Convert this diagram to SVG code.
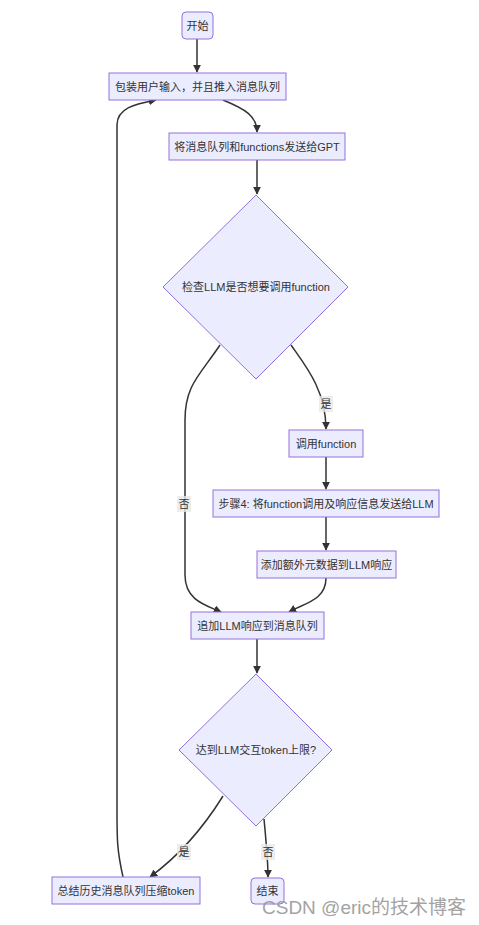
<svg xmlns="http://www.w3.org/2000/svg" width="479" height="925" viewBox="0 0 479 925">
<style>
.n{fill:#ECECFF;stroke:#9370DB;stroke-width:1}
.t{font-family:"Liberation Sans","Noto Sans CJK SC",sans-serif;font-size:11px;fill:#333;text-anchor:middle;dominant-baseline:central}
.e{fill:none;stroke:#333;stroke-width:1.5}
.lb{fill:#E8E8E8;opacity:0.8}
</style>
<defs>
<marker id="a" viewBox="0 0 10 10" refX="9" refY="5" markerWidth="8" markerHeight="8" markerUnits="userSpaceOnUse" orient="auto"><path d="M0,0L10,5L0,10z" fill="#333"/></marker>
</defs>
<rect width="479" height="925" fill="#fff"/>
<g id="edges">
<path class="e" d="M197,39V72" marker-end="url(#a)"/>
<path class="e" d="M223,100C245,109 257,116 257,132" marker-end="url(#a)"/>
<path class="e" d="M257,160V194" marker-end="url(#a)"/>
<path class="e" d="M220,345C200,375 185,385 185,420V575C185,600 205,605 221,612" marker-end="url(#a)"/>
<path class="e" d="M291,345C305,365 326,390 326,429" marker-end="url(#a)"/>
<path class="e" d="M326,457V489" marker-end="url(#a)"/>
<path class="e" d="M326,517V550" marker-end="url(#a)"/>
<path class="e" d="M326,578C326,600 305,603 289,612" marker-end="url(#a)"/>
<path class="e" d="M257,639V673" marker-end="url(#a)"/>
<path class="e" d="M223,796C205,825 180,855 150,877" marker-end="url(#a)"/>
<path class="e" d="M264,819C266,840 268,860 268,877" marker-end="url(#a)"/>
<path class="e" d="M123,877C117,850 117,840 117,810V125C117,108 135,104 156,100" marker-end="url(#a)"/>
<rect class="lb" x="319" y="396" width="14" height="16"/>
<text class="t" x="326" y="404">是</text>
<rect class="lb" x="177" y="496" width="14" height="16"/>
<text class="t" x="184" y="504">否</text>
<rect class="lb" x="177" y="844" width="14" height="16"/>
<text class="t" x="184" y="852">是</text>
<rect class="lb" x="261" y="844" width="14" height="16"/>
<text class="t" x="268" y="852">否</text>
</g>
<g id="start"><rect class="n" x="182" y="12" width="31" height="27" rx="4"/><text class="t" x="197.5" y="25.5">开始</text></g>
<g id="wrap"><rect class="n" x="109" y="73" width="177" height="27"/><text class="t" x="197.5" y="86.5">包装用户输入，并且推入消息队列</text></g>
<g id="send"><rect class="n" x="169" y="133" width="176" height="27"/><text class="t" x="257" y="146.5">将消息队列和functions发送给GPT</text></g>
<g id="check"><polygon class="n" points="256,195 348,287 256,379 163,287"/><text class="t" x="256" y="287">检查LLM是否想要调用function</text></g>
<g id="call"><rect class="n" x="289" y="430" width="74" height="27"/><text class="t" x="326" y="443.5">调用function</text></g>
<g id="step4"><rect class="n" x="213" y="490" width="226" height="27"/><text class="t" x="326" y="503.5">步骤4: 将function调用及响应信息发送给LLM</text></g>
<g id="meta"><rect class="n" x="257" y="551" width="139" height="27"/><text class="t" x="326.5" y="564.5">添加额外元数据到LLM响应</text></g>
<g id="append"><rect class="n" x="191" y="612" width="133" height="27"/><text class="t" x="257.5" y="625.5">追加LLM响应到消息队列</text></g>
<g id="limit"><polygon class="n" points="256,674 332,750 256,826 179,750"/><text class="t" x="256" y="750">达到LLM交互token上限?</text></g>
<g id="summary"><rect class="n" x="52" y="877" width="148" height="27"/><text class="t" x="126" y="890.5">总结历史消息队列压缩token</text></g>
<g id="end"><rect class="n" x="251" y="878" width="33" height="26" rx="4"/><text class="t" x="267.5" y="891">结束</text></g>
<text x="262" y="914" style="font-family:'Liberation Sans','Noto Sans CJK SC',sans-serif;font-size:19px;fill:#9a9a9a;opacity:0.9">CSDN @eric的技术博客</text>
</svg>
